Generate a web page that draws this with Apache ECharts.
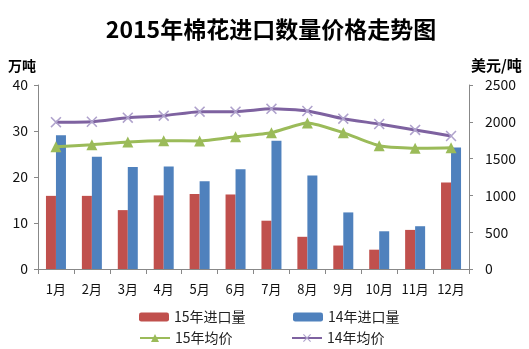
<!DOCTYPE html>
<html><head><meta charset="utf-8">
<script src="https://cdn.jsdelivr.net/npm/echarts@6/dist/echarts.min.js"></script>
<style>html,body{margin:0;padding:0;background:#fff}#c{width:529px;height:349px}</style>
</head><body><div id="c"></div>
<script>
const categories = ['1月','2月','3月','4月','5月','6月','7月','8月','9月','10月','11月','12月'];
const import15 = [15.9, 15.9, 12.8, 16.0, 16.3, 16.2, 10.5, 7.0, 5.1, 4.2, 8.5, 18.8];
const import14 = [29.1, 24.4, 22.2, 22.3, 19.1, 21.7, 27.9, 20.3, 12.3, 8.2, 9.3, 26.4];
const price15 = [1662, 1689, 1726, 1743, 1739, 1798, 1852, 1984, 1852, 1675, 1640, 1648];
const price14 = [1995, 2001, 2056, 2083, 2138, 2138, 2176, 2147, 2042, 1970, 1889, 1807];
const leftTicks = [0, 40, 10];
const rightTicks = [0, 2500, 500];

const font = '"Noto Sans CJK SC", sans-serif';
const chart = echarts.init(document.getElementById('c'));
const xShape = 'path://M0,1L1,0L5,4L9,0L10,1L6,5L10,9L9,10L5,6L1,10L0,9L4,5Z';
const legText = {fontSize: 14, color: '#222', fontFamily: font};
function leg(name, left, top, h) {
  return {data: [name], left: left, top: top, itemWidth: 30, itemHeight: h, itemGap: 4, textStyle: legText};
}
chart.setOption({
  animation: false,
  textStyle: {fontFamily: font},
  title: {text: '2015年棉花进口数量价格走势图', left: 266, textAlign: 'center', top: 13,
    textStyle: {fontSize: 23, fontWeight: 'bold', color: '#000', fontFamily: font}},
  grid: {left: 38, right: 60, top: 85, bottom: 80},
  legend: [
    leg('15年进口量', 134, 305, 9),
    leg('14年进口量', 288, 305, 9),
    leg('15年均价', 134, 326, 10),
    leg('14年均价', 286, 326, 10)
  ],
  xAxis: {type: 'category', data: categories,
    axisLine: {lineStyle: {color: '#888'}},
    axisTick: {show: true, length: 5, lineStyle: {color: '#888'}},
    axisLabel: {color: '#111', fontSize: 13, margin: 14}},
  yAxis: [
    {type: 'value', min: leftTicks[0], max: leftTicks[1], interval: leftTicks[2],
     name: '万吨', nameLocation: 'end', nameGap: 12,
     nameTextStyle: {fontSize: 14, fontWeight: 'bold', color: '#000', align: 'right', padding: [0, 2, 0, 0]},
     axisLine: {show: true, lineStyle: {color: '#888'}},
     axisTick: {show: true, length: 4, lineStyle: {color: '#888'}},
     splitLine: {show: false},
     axisLabel: {color: '#111', fontSize: 14, margin: 10}},
    {type: 'value', min: rightTicks[0], max: rightTicks[1], interval: rightTicks[2],
     name: '美元/吨', nameLocation: 'end', nameGap: 12,
     nameTextStyle: {fontSize: 15, fontWeight: 'bold', color: '#000', align: 'left', padding: [0, 0, 0, 2]},
     axisLine: {show: true, lineStyle: {color: '#888'}},
     axisTick: {show: true, length: 4, lineStyle: {color: '#888'}},
     splitLine: {show: false},
     axisLabel: {color: '#111', fontSize: 14, margin: 16, formatter: v => String(v)}}
  ],
  series: [
    {name: '15年进口量', type: 'bar', data: import15, barWidth: 10, barGap: '0%', itemStyle: {color: '#C0504D'}},
    {name: '14年进口量', type: 'bar', data: import14, barWidth: 10, itemStyle: {color: '#4F81BD'}},
    {name: '15年均价', type: 'line', yAxisIndex: 1, data: price15, smooth: 0.2,
     symbol: 'triangle', symbolSize: 11, lineStyle: {color: '#9BBB59', width: 3},
     itemStyle: {color: '#9BBB59'}},
    {name: '14年均价', type: 'line', yAxisIndex: 1, data: price14, smooth: 0.2,
     symbol: xShape, symbolSize: 11, lineStyle: {color: '#7E62A0', width: 3},
     itemStyle: {color: '#AFA2CC'}}
  ]
});
</script></body></html>
